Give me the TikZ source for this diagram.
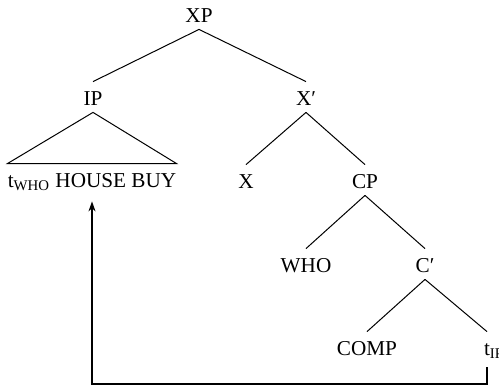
\documentclass[tikz,border=0pt]{standalone}
\usepackage{fontspec}
\setmainfont{Liberation Serif}
\usetikzlibrary{arrows.meta, calc}
\tikzstyle{cat} = [draw=none, inner xsep=3pt, inner ysep=3pt,
    text height=8.5pt, text depth=0.5pt, anchor=base,
    font=\fontsize{10.6}{12}\selectfont]
\tikzstyle{branch} = [line width=0.5pt]
\tikzstyle{move} = [line width=0.6pt, -{Stealth[length=5pt,width=3.5pt]}]

\begin{document}
\begin{tikzpicture}[x=0.5pt, y=-0.5pt]
\useasboundingbox (0,0) rectangle (499,386);

%%% TOP
\node[cat] (xp) at (199,22) {XP};
\node[cat] (ip) at (93,105) {IP};
\node[cat] (xbar) at (306,105) {X′};
\draw[branch] (xp.south) -- (ip.north);
\draw[branch] (xp.south) -- (xbar.north);

%%% IP
% Triangle over the whole string
\node[cat, inner xsep=0] (ipstr) at (92,187) {t\textsubscript{WHO} HOUSE BUY};
\draw[branch] (ip.south) -- (ipstr.north west) -- (ipstr.north east) -- cycle;

%%% X'
\node[cat] (x) at (246,188) {X};
\node[cat] (cp) at (365,188) {CP};
\draw[branch] (xbar.south) -- (x.north);
\draw[branch] (xbar.south) -- (cp.north);

%%% CP
\node[cat] (who) at (306,272) {WHO};
\node[cat] (cbar) at (425,272) {C′};
\draw[branch] (cp.south) -- (who.north);
\draw[branch] (cp.south) -- (cbar.north);

%%% C'
\node[cat] (comp) at (367,355) {COMP};
\node[cat] (tip) at (487,355) {t\rlap{\textsubscript{IP}}};
\draw[branch] (cbar.south) -- (comp.north);
\draw[branch] (cbar.south) -- (tip.north);

% Movement of IP
\coordinate (bot) at (0,384);
\draw[move] ([yshift=-2.5pt]tip.south) -- (tip.south |- bot) -| ([yshift=-3.5pt]ipstr.south);

\end{tikzpicture}
\end{document}
